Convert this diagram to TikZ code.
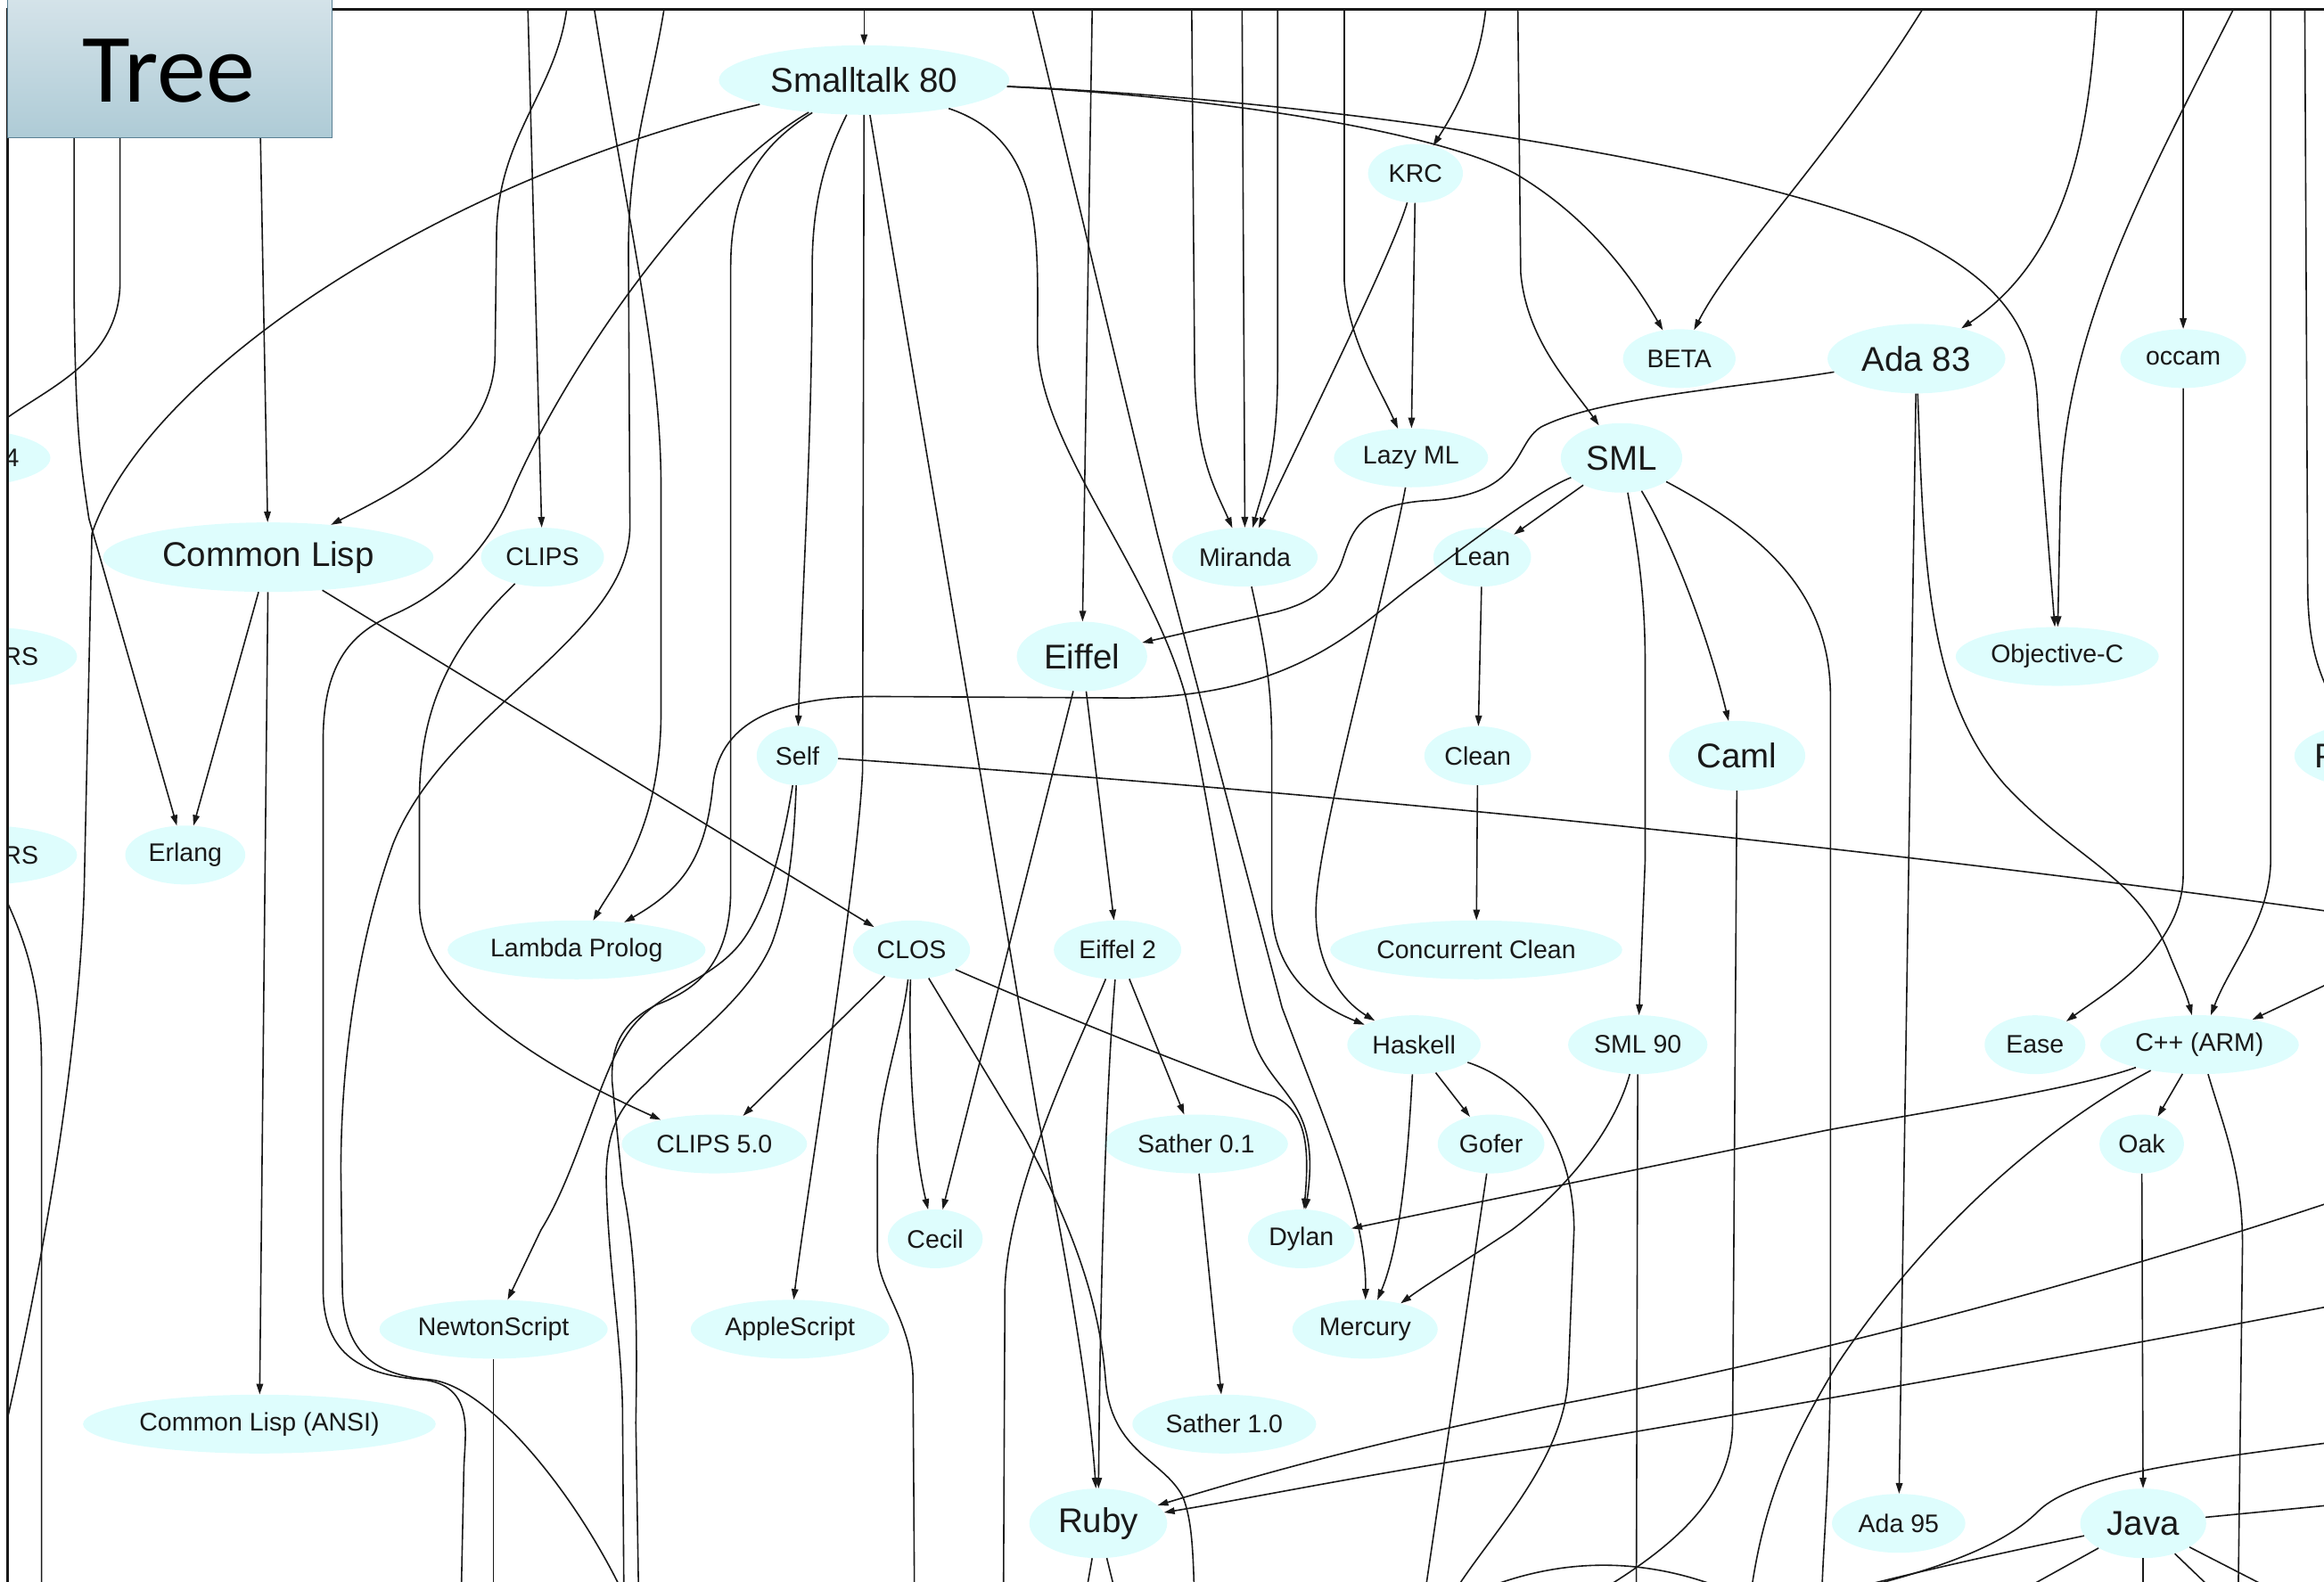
\documentclass[tikz,border=0pt]{standalone}
\usepackage{fontspec}
\setmainfont{Liberation Sans}
\newfontfamily\treefont{Carlito}
\usetikzlibrary{arrows.meta,shapes.geometric}
\definecolor{lcyan}{RGB}{222,253,253}
\definecolor{boxtop}{RGB}{214,228,234}
\definecolor{boxbot}{RGB}{174,203,214}
\definecolor{boxedge}{RGB}{90,128,148}
\definecolor{ink}{RGB}{25,25,25}
\tikzset{
 lang/.style={ellipse, fill=lcyan, inner sep=0pt, text=ink, font=\fontsize{28.5}{30}\selectfont, minimum height=66pt},
 big/.style={lang, font=\fontsize{38.5}{40}\selectfont, minimum height=78pt},
 ew/.style={minimum width=#1*1.6626pt},
 arr/.style={draw=ink, line width=1.6pt, -{Triangle[length=12pt,width=7.5pt]}},
 ln/.style={draw=ink, line width=1.6pt},
 partlabel/.style={inner sep=0pt, text=ink, font=\fontsize{28.5}{30}\selectfont},
}
\begin{document}
\begin{tikzpicture}[x=1.6626pt,y=-1.6626pt]
\useasboundingbox (0,0) rectangle (1568,1067);
\begin{scope}
\clip (5,6.4) rectangle (1568,1067);
% ---------------- nodes ----------------
\node[big, ew=196] (st) at (583,54) {Smalltalk 80};
\node[lang, ew=64] (krc) at (955,117) {KRC};
\node[lang, ew=76] (beta) at (1133,242) {BETA};
\node[big, ew=120] (ada83) at (1293,242) {Ada 83};
\node[lang, ew=85] (occam) at (1473,242) {occam};
\node[big, ew=82] (sml) at (1094,309) {SML};
\node[lang, ew=104] (lazyml) at (952,309) {Lazy ML};
\node[lang, ew=128] (n4) at (-30,309) {};
\node[partlabel, anchor=east] (n4t) at (13,309) {4};
\node[lang, ew=98] (miranda) at (840,376) {Miranda};
\node[lang, ew=66] (lean) at (1000,376) {Lean};
\node[big, ew=223] (cl) at (181,376) {Common Lisp};
\node[lang, ew=83] (clips) at (366,376) {CLIPS};
\node[lang, ew=124] (rs1) at (-10,443) {};
\node[partlabel, anchor=east] (rs1t) at (26,443) {RS};
\node[big, ew=88] (eiffel) at (730,443) {Eiffel};
\node[lang, ew=137] (objc) at (1388,443) {Objective-C};
\node[lang, ew=55] (self) at (538,510) {Self};
\node[lang, ew=72] (clean) at (997,510) {Clean};
\node[big, ew=92] (caml) at (1172,510) {Caml};
\node[big, ew=124] (perl) at (1610,510) {};
\node[inner sep=0pt, text=ink, font=\fontsize{38.5}{40}\selectfont, anchor=west] (perlt) at (1561.5,510) {Perl};
\node[lang, ew=124] (rs2) at (-10,577) {};
\node[partlabel, anchor=east] (rs2t) at (26,577) {RS};
\node[lang, ew=81] (erlang) at (125,577) {Erlang};
\node[lang, ew=174] (lprolog) at (389,641) {Lambda Prolog};
\node[lang, ew=79] (clos) at (615,641) {CLOS};
\node[lang, ew=86] (eiffel2) at (754,641) {Eiffel 2};
\node[lang, ew=197] (cclean) at (996,641) {Concurrent Clean};
\node[lang, ew=90] (haskell) at (954,705) {Haskell};
\node[lang, ew=94] (sml90) at (1105,705) {SML 90};
\node[lang, ew=68] (ease) at (1373,705) {Ease};
\node[lang, ew=134] (cpp) at (1484,705) {C++ (ARM)};
\node[lang, ew=125] (clips5) at (482,772) {CLIPS 5.0};
\node[lang, ew=124] (sather01) at (807,772) {Sather 0.1};
\node[lang, ew=72] (gofer) at (1006,772) {Gofer};
\node[lang, ew=57] (oak) at (1445,772) {Oak};
\node[lang, ew=64] (cecil) at (631,836) {Cecil};
\node[lang, ew=72] (dylan) at (878,836) {Dylan};
\node[lang, ew=154] (newton) at (333,897) {NewtonScript};
\node[lang, ew=134] (apples) at (533,897) {AppleScript};
\node[lang, ew=98] (mercury) at (921,897) {Mercury};
\node[lang, ew=238] (clansi) at (175,961) {Common Lisp (ANSI)};
\node[lang, ew=124] (sather10) at (826,961) {Sather 1.0};
\node[big, ew=93] (ruby) at (741,1028) {Ruby};
\node[lang, ew=90] (ada95) at (1281,1028) {Ada 95};
\node[big, ew=85] (java) at (1446,1028) {Java};
% ---------------- free ends ----------------
\coordinate (t50) at (50,0);
\coordinate (t81) at (81,0);
\coordinate (t174) at (174,0);
\coordinate (t356) at (356,0);
\coordinate (t383) at (383,0);
\coordinate (t400) at (400,0);
\coordinate (t449) at (449,0);
\coordinate (t583) at (583,0);
\coordinate (t695) at (695,0);
\coordinate (t737) at (737,0);
\coordinate (t804) at (804,0);
\coordinate (t838) at (838,0);
\coordinate (t862) at (862,0);
\coordinate (t907) at (907,0);
\coordinate (t1003) at (1003,0);
\coordinate (t1024) at (1024,0);
\coordinate (t1301) at (1301,0);
\coordinate (t1415) at (1415,0);
\coordinate (t1473) at (1473,0);
\coordinate (t1510) at (1510,0);
\coordinate (t1532) at (1532,0);
\coordinate (t1555) at (1555,0);
\coordinate (r470) at (1590,500);
\coordinate (r615) at (1600,619);
\coordinate (r665) at (1600,650);
\coordinate (r813) at (1600,802);
\coordinate (r882) at (1600,876);
\coordinate (r975) at (1600,970);
\coordinate (rjava) at (1600,1013);
\coordinate (bl1) at (-10,1020);
\coordinate (b28) at (28,1085);
\coordinate (b311) at (311,1085);
\coordinate (b333) at (333,1085);
\coordinate (b415) at (425,1085);
\coordinate (b422) at (421,1085);
\coordinate (b429) at (431,1085);
\coordinate (b617) at (617,1085);
\coordinate (b677) at (677,1085);
\coordinate (b733) at (731,1085);
\coordinate (b755) at (755,1085);
\coordinate (b805) at (806,1085);
\coordinate (b965) at (960,1085);
\coordinate (b975) at (972,1090);
\coordinate (b1070) at (1060,1085);
\coordinate (b1104) at (1104,1085);
\coordinate (b1180) at (1180,1085);
\coordinate (b1229) at (1229,1085);
\coordinate (b1240) at (1220,1080);
\coordinate (bj) at (1180,1090);
\coordinate (b1348) at (1343,1085);
\coordinate (b1446) at (1446,1085);
\coordinate (b1508) at (1510,1085);
\coordinate (b1495) at (1495,1075);
\coordinate (b1552) at (1557,1085);
\coordinate (barcL) at (965,1090);
\coordinate (barcR) at (1200,1090);
% ---------------- edges from above ----------------
\draw[arr] (t50) -- (50,200) .. controls (51,290) and (54,310) .. (60,350) -- (erlang);
\draw[arr] (t81) -- (81,190) .. controls (81,245) and (30,262) .. (n4);
\draw[arr] (t174) -- (cl);
\draw[arr] (t356) -- (clips);
\draw[arr] (t383) .. controls (378,60) and (335,90) .. (335,160) -- (334,240) .. controls (333,300) and (270,330) .. (cl);
\draw[arr] (t400) .. controls (425,160) and (446,240) .. (446,330) -- (446,480) .. controls (446,560) and (415,595) .. (lprolog);
\draw[arr] (t449) .. controls (440,60) and (424,100) .. (424,170) -- (425,355) .. controls (425,430) and (300,480) .. (265,570) .. controls (240,640) and (230,720) .. (230,790) -- (231,870) .. controls (232,915) and (255,928) .. (290,931) .. controls (330,935) and (390,1010) .. (b415);
\draw[arr] (t583) -- (st);
\draw[arr] (t695) -- (781,361) -- (865,680) .. controls (895,760) and (922,820) .. (mercury);
\draw[arr] (t737) -- (eiffel);
\draw[arr] (t804) -- (806,250) .. controls (807,310) and (820,330) .. (miranda);
\draw[arr] (t838) -- (miranda);
\draw[arr] (t862) -- (862,250) .. controls (862,310) and (852,330) .. (miranda);
\draw[arr] (t907) -- (907,190) .. controls (910,230) and (930,260) .. (lazyml);
\draw[arr] (t1003) .. controls (1000,40) and (985,70) .. (krc);
\draw[arr] (t1024) -- (1026,184) .. controls (1030,230) and (1060,260) .. (sml);
\draw[arr] (t1301) .. controls (1240,100) and (1170,170) .. (beta);
\draw[arr] (t1415) .. controls (1410,80) and (1400,170) .. (ada83);
\draw[arr] (t1473) -- (occam);
\draw[arr] (t1510) .. controls (1450,120) and (1392,220) .. (1390,340) -- (objc);
\draw[arr] (t1532) -- (1532,580) .. controls (1532,620) and (1505,650) .. (cpp);
\draw[arr] (t1555) -- (1557,400) .. controls (1558,440) and (1565,460) .. (r470);
\draw[arr] (r665) -- (cpp);
% ---------------- Smalltalk 80 ----------------
\draw[arr] (st) .. controls (300,120) and (100,250) .. (62,360) -- (57,590) .. controls (55,700) and (30,860) .. (bl1);
\draw[arr] (st) .. controls (470,120) and (380,250) .. (345,333) .. controls (330,370) and (300,400) .. (265,415) .. controls (235,428) and (218,450) .. (218,500) -- (218,870) .. controls (218,915) and (245,928) .. (285,931) .. controls (320,935) and (314,965) .. (313,990) -- (b311);
\draw[arr] (st) .. controls (510,100) and (493,130) .. (493,180) -- (493,600) .. controls (493,650) and (470,668) .. (443,678) .. controls (420,690) and (412,705) .. (413,730) -- (420,800) .. controls (430,850) and (430,900) .. (429,960) -- (b429);
\draw[arr] (st) .. controls (560,100) and (548,130) .. (548,180) .. controls (548,300) and (541,400) .. (self);
\draw[arr] (st) -- (582,520) .. controls (578,600) and (545,800) .. (apples);
\draw[arr] (st) -- (700,752) .. controls (720,850) and (735,940) .. (ruby);
\draw[arr] (st) .. controls (705,95) and (700,160) .. (700,230) .. controls (700,300) and (775,380) .. (800,470) .. controls (820,560) and (830,650) .. (845,700) .. controls (858,740) and (892,740) .. (dylan);
\draw[arr] (st) .. controls (800,64) and (960,85) .. (1022,117) .. controls (1070,145) and (1100,185) .. (beta);
\draw[arr] (st) .. controls (900,68) and (1180,110) .. (1290,160) .. controls (1360,195) and (1374,230) .. (1375,280) -- (objc);
% ---------------- KRC, Miranda, Lazy ML ----------------
\draw[arr] (krc) .. controls (940,170) and (880,290) .. (miranda);
\draw[arr] (krc) -- (lazyml);
\draw[arr] (miranda) .. controls (852,430) and (858,460) .. (858,500) -- (858,610) .. controls (858,650) and (880,675) .. (haskell);
\draw[arr] (lazyml) .. controls (935,400) and (890,560) .. (888,610) .. controls (886,650) and (905,675) .. (haskell);
% ---------------- Ada 83, occam ----------------
\draw[arr] (ada83) .. controls (1170,262) and (1080,268) .. (1040,288) .. controls (1020,300) and (1030,335) .. (960,338) .. controls (915,342) and (912,360) .. (905,380) .. controls (897,400) and (880,408) .. (861,413) -- (eiffel);
\draw[arr] (ada83) -- (ada95);
\draw[arr] (ada83) .. controls (1298,380) and (1300,470) .. (1353,530) .. controls (1400,580) and (1440,590) .. (1462,640) .. controls (1470,660) and (1475,670) .. (cpp);
\draw[arr] (occam) -- (1473,590) .. controls (1473,640) and (1420,670) .. (ease);
% ---------------- SML ----------------
\draw[arr] (sml) -- (lean);
\draw[arr] (sml) .. controls (1040,330) and (1000,360) .. (960,390) .. controls (920,418) and (880,470) .. (760,471) -- (590,470) .. controls (520,470) and (485,490) .. (481,530) .. controls (476,580) and (460,600) .. (lprolog);
\draw[arr] (sml) .. controls (1105,370) and (1110,400) .. (1110,450) -- (1110,580) -- (sml90);
\draw[arr] (sml) .. controls (1125,360) and (1150,420) .. (caml);
\draw[arr] (sml) .. controls (1190,360) and (1235,400) .. (1235,470) -- (1235,900) .. controls (1235,1000) and (1230,1040) .. (b1229);
\draw[arr] (lean) -- (clean);
\draw[arr] (clean) -- (cclean);
\draw[arr] (caml) -- (1169,960) .. controls (1169,1010) and (1130,1045) .. (b1070);
\draw[arr] (sml90) .. controls (1090,760) and (1060,800) .. (1020,830) .. controls (990,850) and (965,865) .. (mercury);
\draw[arr] (sml90) -- (b1104);
% ---------------- Haskell, Gofer ----------------
\draw[arr] (haskell) -- (gofer);
\draw[arr] (haskell) .. controls (950,780) and (945,840) .. (mercury);
\draw[arr] (haskell) .. controls (1030,730) and (1062,770) .. (1062,830) -- (1058,930) .. controls (1055,990) and (1000,1040) .. (b975);
\draw[arr] (gofer) -- (b965);
% ---------------- Common Lisp, CLIPS ----------------
\draw[arr] (cl) -- (erlang);
\draw[arr] (cl) -- (clansi);
\draw[arr] (cl) -- (clos);
\draw[arr] (clips) .. controls (310,430) and (283,470) .. (283,540) -- (283,610) .. controls (283,680) and (400,735) .. (clips5);
% ---------------- CLOS ----------------
\draw[arr] (clos) -- (clips5);
\draw[arr] (clos) .. controls (613,700) and (615,770) .. (cecil);
\draw[arr] (clos) .. controls (680,670) and (800,720) .. (860,740) .. controls (880,750) and (884,770) .. (dylan);
\draw[arr] (clos) .. controls (608,700) and (592,740) .. (592,780) -- (592,845) .. controls (592,870) and (615,890) .. (616,930) -- (b617);
\draw[arr] (clos) -- (690,765) .. controls (725,830) and (742,880) .. (746,932) .. controls (750,980) and (785,985) .. (798,1010) .. controls (804,1025) and (805,1045) .. (b805);
% ---------------- Eiffel ----------------
\draw[arr] (eiffel) -- (cecil);
\draw[arr] (eiffel) -- (eiffel2);
\draw[arr] (eiffel2) -- (sather01);
\draw[arr] (eiffel2) .. controls (745,750) and (742,900) .. (ruby);
\draw[arr] (eiffel2) .. controls (730,700) and (680,800) .. (678,870) -- (b677);
\draw[arr] (sather01) -- (sather10);
% ---------------- Self ----------------
\draw[arr] (self) .. controls (900,535) and (1250,570) .. (r615);
\draw[arr] (self) .. controls (530,560) and (520,610) .. (500,636) .. controls (480,662) and (445,668) .. (425,695) .. controls (405,722) and (390,790) .. (365,830) -- (newton);
\draw[arr] (self) .. controls (536,560) and (534,600) .. (521,636) .. controls (505,675) and (460,705) .. (436,731) .. controls (420,745) and (409,760) .. (409,795) .. controls (410,850) and (419,900) .. (420,950) -- (b422);
% ---------------- left partial nodes ----------------
\draw[arr] (rs2) .. controls (15,630) and (28,660) .. (28,720) -- (b28);
% ---------------- C++, Oak, Java ----------------
\draw[arr] (cpp) -- (oak);
\draw[arr] (cpp) .. controls (1400,735) and (1300,750) .. (1231,763) -- (dylan);
\draw[arr] (cpp) .. controls (1500,760) and (1513,790) .. (1513,840) -- (b1508);
\draw[arr] (cpp) .. controls (1380,760) and (1300,830) .. (1240,920) .. controls (1210,970) and (1190,1010) .. (b1180);
\draw[arr] (oak) -- (java);
\draw[arr] (java) -- (rjava);
\draw[arr] (java) .. controls (1370,1044) and (1300,1058) .. (bj);
\draw[arr] (java) -- (b1348);
\draw[arr] (java) -- (b1446);
\draw[arr] (java) -- (b1495);
\draw[arr] (java) -- (b1552);
\draw[arr] (r975) .. controls (1480,985) and (1400,995) .. (1375,1020) .. controls (1350,1045) and (1300,1062) .. (b1240);
\draw[arr] (r813) .. controls (1400,870) and (1200,920) .. (1045,949) .. controls (920,975) and (850,995) .. (ruby);
\draw[arr] (r882) .. controls (1400,915) and (1200,950) .. (1045,976) .. controls (920,995) and (850,1010) .. (ruby);
% ---------------- bottom ----------------
\draw[arr] (newton) -- (b333);
\draw[arr] (ruby) -- (b733);
\draw[arr] (ruby) -- (b755);
\draw[ln] (barcL) .. controls (1040,1046) and (1120,1044) .. (barcR);
\end{scope}
% frame
\draw[line width=2.5pt, ink] (5,1080) -- (5,6.4) -- (1580,6.4);
% title box
\draw[draw=boxedge, line width=1.5pt, top color=boxtop, bottom color=boxbot] (5,-5) rectangle (224,93);
\node[anchor=base, inner sep=0pt, text=black, font=\treefont\fontsize{110}{110}\selectfont] (treelabel) at (114,69) {Tree};
\end{tikzpicture}
\end{document}
